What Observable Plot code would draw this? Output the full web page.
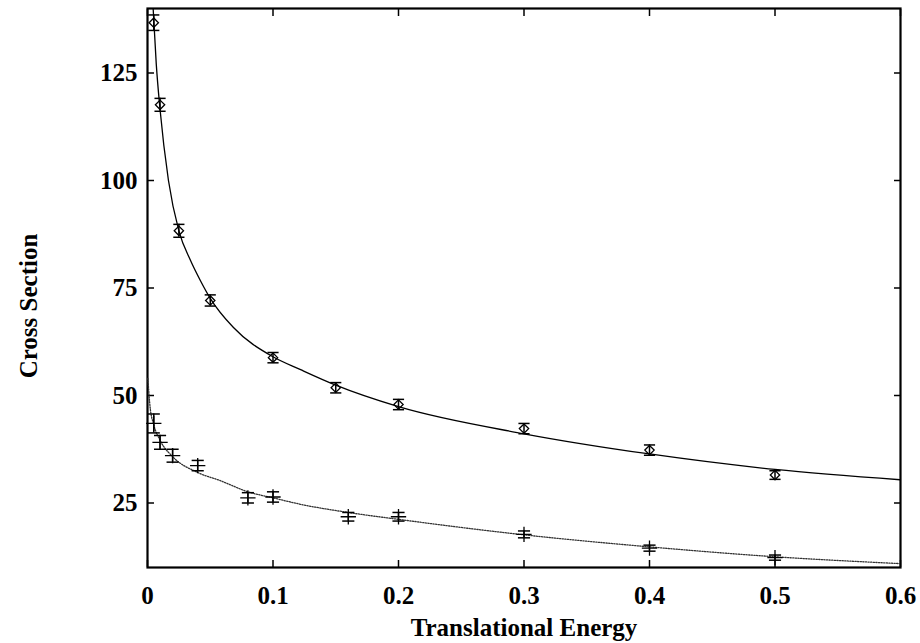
<!DOCTYPE html>
<html>
<head>
<meta charset="utf-8">
<script src="https://cdn.jsdelivr.net/npm/d3@7"></script>
<script src="https://cdn.jsdelivr.net/npm/@observablehq/plot@0.6"></script>
<style>
  html, body { margin: 0; padding: 0; background: #fff; }
  #chart svg { display: block; }
</style>
</head>
<body>
<div id="chart"></div>
<script>
// Measured data (upper series, diamonds)
const upperX = [0.005, 0.01, 0.025, 0.05, 0.1, 0.15, 0.2, 0.3, 0.4, 0.5];
const upperY = [136.7, 117.6, 88.3, 72.1, 58.8, 51.8, 47.9, 42.3, 37.3, 31.5];
const upperErr = [1.8, 1.5, 1.5, 1.3, 1.2, 1.2, 1.2, 1.2, 1.2, 1.0];

// Measured data (lower series, plus markers)
const lowerX = [0.005, 0.01, 0.02, 0.04, 0.08, 0.1, 0.16, 0.2, 0.3, 0.4, 0.5];
const lowerY = [43.5, 39.1, 36.0, 33.7, 26.2, 26.4, 21.8, 21.8, 17.7, 14.5, 12.3];
const lowerErr = [2.2, 1.6, 1.5, 1.2, 1.2, 1.2, 1.0, 1.0, 0.8, 0.7, 0.6];

// Fitted curves
const upperFitX = [0.0045, 0.007, 0.01, 0.0167, 0.025, 0.0343, 0.0422, 0.05, 0.0685, 0.1, 0.122, 0.15, 0.2, 0.3, 0.4, 0.5, 0.6];
const upperFitY = [140, 127, 116.5, 100, 88.3, 81.4, 76.7, 72.6, 65.8, 59, 56, 52.4, 47.4, 41.1, 36.4, 32.8, 30.4];
const lowerFitX = [0.0003, 0.002, 0.005, 0.01, 0.02, 0.04, 0.058, 0.08, 0.1, 0.122, 0.16, 0.2, 0.3, 0.4, 0.5, 0.6];
const lowerFitY = [54, 47.5, 43.2, 39.6, 35.8, 32.1, 30.2, 27.6, 26.2, 24.7, 22.8, 21.2, 17.6, 14.8, 12.5, 10.9];

// Axis ticks and titles
const xTicks = [0, 0.1, 0.2, 0.3, 0.4, 0.5, 0.6];
const xTickLabels = ["0", "0.1", "0.2", "0.3", "0.4", "0.5", "0.6"];
const yTicks = [25, 50, 75, 100, 125];
const xTitle = "Translational Energy";
const yTitle = "Cross Section";

const upper = upperX.map((x, i) => ({x, y: upperY[i], e: upperErr[i]}));
const lower = lowerX.map((x, i) => ({x, y: lowerY[i], e: lowerErr[i]}));
const upperFit = upperFitX.map((x, i) => ({x, y: upperFitY[i]}));
const lowerFit = lowerFitX.map((x, i) => ({x, y: lowerFitY[i]}));

// horizontal-line symbol for error-bar caps
const hline = { draw(ctx, size) { const w = Math.sqrt(size) * 0.9; ctx.moveTo(-w, 0); ctx.lineTo(w, 0); } };

const font = "'Liberation Serif', 'Times New Roman', serif";

const chart = Plot.plot({
  width: 920,
  height: 643,
  marginLeft: 147,
  marginRight: 20,
  marginTop: 8,
  marginBottom: 76,
  style: { fontFamily: font, fontWeight: "bold", fontSize: "25px", background: "#fff" },
  x: { domain: [0, 0.6] },
  y: { domain: [10, 140] },
  marks: [
    Plot.axisX(xTicks, { anchor: "bottom", tickSize: -7, tickPadding: 26, strokeWidth: 1.5,
      tickFormat: (d) => xTickLabels[xTicks.indexOf(d)], fontSize: 25,
      label: xTitle, labelAnchor: "center", labelArrow: "none", labelOffset: 68 }),
    Plot.axisX(xTicks, { anchor: "top", tickSize: -7, strokeWidth: 1.5, tickFormat: () => "", label: null }),
    Plot.axisY(yTicks, { anchor: "left", tickSize: -7, tickPadding: 17, strokeWidth: 1.5, fontSize: 25, label: null }),
    Plot.axisY(yTicks, { anchor: "right", tickSize: -7, strokeWidth: 1.5, tickFormat: () => "", label: null }),
    Plot.text([yTitle], { text: d => d, frameAnchor: "left", textAnchor: "middle", rotate: -90, dx: -119, dy: 18, fontSize: 25, fontWeight: "bold", fill: "#000" }),
    Plot.frame({ strokeWidth: 2.2, stroke: "#000" }),
    Plot.line(upperFit, { x: "x", y: "y", curve: "monotone-x", stroke: "#000", strokeWidth: 1.3, clip: true }),
    Plot.line(lowerFit, { x: "x", y: "y", curve: "monotone-x", stroke: "#333", strokeWidth: 1.3, strokeDasharray: "1.2,1.4", clip: true }),
    // upper error bars
    Plot.ruleX(upper, { x: "x", y1: d => d.y - d.e, y2: d => d.y + d.e, stroke: "#000", strokeWidth: 1.5 }),
    Plot.dot(upper, { x: "x", y: d => d.y - d.e, symbol: hline, r: 3.5, stroke: "#000", strokeWidth: 1.5 }),
    Plot.dot(upper, { x: "x", y: d => d.y + d.e, symbol: hline, r: 3.5, stroke: "#000", strokeWidth: 1.5 }),
    Plot.dot(upper, { x: "x", y: "y", symbol: "diamond2", r: 4.2, stroke: "#000", fill: "none", strokeWidth: 1.3 }),
    // lower error bars
    Plot.ruleX(lower, { x: "x", y1: d => d.y - d.e, y2: d => d.y + d.e, stroke: "#000", strokeWidth: 1.5 }),
    Plot.dot(lower, { x: "x", y: d => d.y - d.e, symbol: hline, r: 3.8, stroke: "#000", strokeWidth: 1.5 }),
    Plot.dot(lower, { x: "x", y: d => d.y + d.e, symbol: hline, r: 3.8, stroke: "#000", strokeWidth: 1.5 }),
    Plot.dot(lower, { x: "x", y: "y", symbol: "plus", r: 5, stroke: "#000", strokeWidth: 1.3 })
  ]
});
document.getElementById("chart").appendChild(chart);
</script>
</body>
</html>
